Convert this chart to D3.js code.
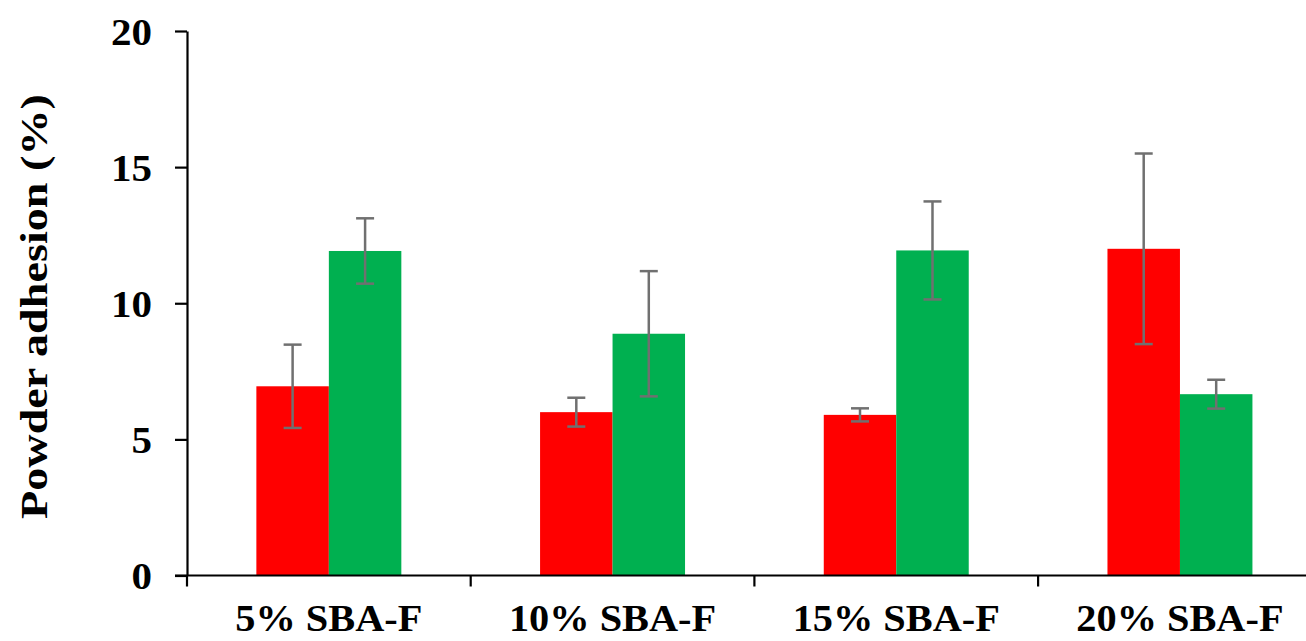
<!DOCTYPE html>
<html>
<head>
<meta charset="utf-8">
<script src="https://cdn.jsdelivr.net/npm/d3@7"></script>
<style>
  html, body { margin: 0; padding: 0; background: #ffffff; }
  svg { display: block; }
</style>
</head>
<body>
<svg id="chart" width="1306" height="641"></svg>
<script>
// Powder adhesion per SBA-F loading, two formulations
const categories = ["5% SBA-F", "10% SBA-F", "15% SBA-F", "20% SBA-F"];
const seriesNames = ["A", "B"];
const seriesColors = ["#ff0000", "#00b050"];
const redValues = [6.95, 6.0, 5.9, 12.0];
const redErrors = [1.53, 0.53, 0.24, 3.5];
const greenValues = [11.92, 8.88, 11.94, 6.66];
const greenErrors = [1.2, 2.3, 1.8, 0.53];
const yTicks = [0, 5, 10, 15, 20];

const FONT = '"Liberation Serif", Tinos, "Times New Roman", Times, "DejaVu Serif", serif';

const svg = d3.select("#chart");

const x0 = 187, yBase = 575.5, yTop = 31;
const step = 283.7;

const x = d3.scaleBand().domain(categories).range([x0, x0 + step * categories.length]).padding(0);
const x1 = d3.scaleBand().domain(seriesNames).range([0, x.bandwidth()]).paddingInner(0).paddingOuter(0.957);
const y = d3.scaleLinear().domain([0, 20]).range([yBase, yTop]);

const rows = categories.map((c, i) => ({
  cat: c,
  bars: [
    { s: "A", v: redValues[i], e: redErrors[i], color: seriesColors[0] },
    { s: "B", v: greenValues[i], e: greenErrors[i], color: seriesColors[1] }
  ]
}));

// bars
const groups = svg.append("g").selectAll("g").data(rows).join("g")
  .attr("transform", d => `translate(${x(d.cat)},0)`);

groups.selectAll("rect").data(d => d.bars).join("rect")
  .attr("x", d => x1(d.s))
  .attr("width", x1.bandwidth())
  .attr("y", d => y(d.v))
  .attr("height", d => y(0) - y(d.v))
  .attr("fill", d => d.color);

// error bars
const capHalf = 9;
const err = groups.selectAll("g.err").data(d => d.bars).join("g").attr("class", "err")
  .attr("stroke", "#707070").attr("stroke-width", 2.5).attr("fill", "none");
const cx = d => x1(d.s) + x1.bandwidth() / 2;
err.append("line")
  .attr("x1", cx).attr("x2", cx)
  .attr("y1", d => y(d.v + d.e)).attr("y2", d => y(d.v - d.e));
err.append("line")
  .attr("x1", d => cx(d) - capHalf).attr("x2", d => cx(d) + capHalf)
  .attr("y1", d => y(d.v + d.e)).attr("y2", d => y(d.v + d.e));
err.append("line")
  .attr("x1", d => cx(d) - capHalf).attr("x2", d => cx(d) + capHalf)
  .attr("y1", d => y(d.v - d.e)).attr("y2", d => y(d.v - d.e));

// y axis
const yAxis = svg.append("g")
  .attr("transform", `translate(${x0},0)`)
  .call(d3.axisLeft(y).tickValues(yTicks).tickSize(12).tickPadding(23).tickSizeOuter(0));
yAxis.attr("font-family", FONT).attr("font-size", 37).attr("font-weight", "bold");
yAxis.select(".domain").attr("stroke", "#000").attr("stroke-width", 2.2);
yAxis.selectAll(".tick line").attr("stroke", "#000").attr("stroke-width", 2.2);
yAxis.selectAll(".tick text").attr("fill", "#000").attr("dy", "0.36em")
  .attr("textLength", d => String(d).length * 20.5).attr("lengthAdjust", "spacingAndGlyphs");

// x axis: baseline with boundary ticks
const xAxis = svg.append("g").attr("font-family", FONT).attr("font-weight", "bold");
xAxis.append("line")
  .attr("x1", x0 - 12).attr("x2", 1306)
  .attr("y1", yBase).attr("y2", yBase)
  .attr("stroke", "#000").attr("stroke-width", 2.2);
const boundaries = categories.map(c => x(c)).concat([x.range()[1]]);
xAxis.selectAll("line.tk").data(boundaries).join("line").attr("class", "tk")
  .attr("x1", d => d).attr("x2", d => d)
  .attr("y1", yBase).attr("y2", yBase + 11)
  .attr("stroke", "#000").attr("stroke-width", 2.2);
xAxis.selectAll("text").data(categories).join("text")
  .attr("x", d => x(d) + x.bandwidth() / 2)
  .attr("y", 631)
  .attr("text-anchor", "middle")
  .attr("font-size", 36)
  .attr("fill", "#000")
  .text(d => d)
  .each(function () {
    const w = this.getComputedTextLength();
    d3.select(this).attr("textLength", w * 1.12).attr("lengthAdjust", "spacingAndGlyphs")
      .attr("font-size", 38);
  });

// y axis title
svg.append("text")
  .attr("transform", "translate(47,306.5) rotate(-90)")
  .attr("text-anchor", "middle")
  .attr("font-family", FONT)
  .attr("font-weight", "bold")
  .attr("font-size", 37)
  .attr("fill", "#000")
  .attr("textLength", 425).attr("lengthAdjust", "spacingAndGlyphs")
  .text("Powder adhesion (%)");
</script>
</body>
</html>
